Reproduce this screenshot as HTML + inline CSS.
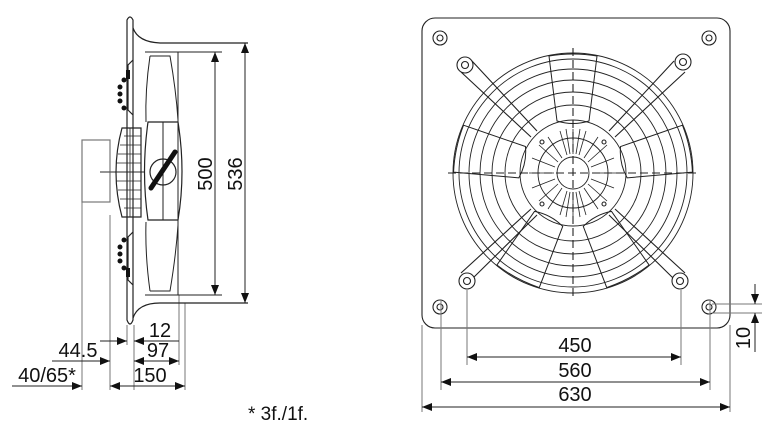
<!DOCTYPE html>
<html><head><meta charset="utf-8"><style>
html,body{margin:0;padding:0;background:#fff;}
svg{display:block;}
text{font-family:"Liberation Sans",Arial,sans-serif;fill:#111;}
</style></head><body>
<svg width="779" height="441" viewBox="0 0 779 441" xmlns="http://www.w3.org/2000/svg">
<defs>
<marker id="a" markerWidth="10" markerHeight="8" refX="10" refY="4" orient="auto" markerUnits="userSpaceOnUse"><path d="M0,0 L10,4 L0,8 z" fill="#111"/></marker>
<marker id="b" markerWidth="10" markerHeight="8" refX="0" refY="4" orient="auto" markerUnits="userSpaceOnUse"><path d="M10,0 L0,4 L10,8 z" fill="#111"/></marker>
<g id="blade"><path d="M52,-16 L117,-24 Q121,0 117,24 L52,16 Q47,0 52,-16 z" fill="none" stroke="#222" stroke-width="1"/></g>
</defs>

<!-- LEFT SIDE VIEW -->
<g stroke="#222" fill="none" stroke-width="1.2">
  <g stroke="#777" stroke-width="1">
    <line x1="82" y1="200" x2="82" y2="390"/>
    <line x1="110" y1="215" x2="110" y2="390"/>
    <line x1="127" y1="325" x2="127" y2="345"/>
    <line x1="134" y1="325" x2="134" y2="390"/>
    <line x1="179" y1="295" x2="179" y2="365"/>
    <line x1="185" y1="303" x2="185" y2="390"/>
  </g>
  <rect x="82" y="140" width="28" height="62" stroke="#777"/>
  <line x1="100" y1="172" x2="145" y2="172" stroke="#555"/>
  <path d="M127,20 Q130,14 133,20 L133,320 Q130,328 127,320 z"/>
  <path d="M133,28 Q138,42 160,43 L248,43"/>
  <path d="M133,318 Q138,303 160,303 L248,303"/>
  <path d="M145,52 L178,52 L178,295 L145,295" stroke-width="1"/>
  <path d="M150,56 L170,56 Q176,90 178,120 M150,56 Q145,90 146,122" stroke-width="1"/>
  <path d="M150,291 L170,291 Q176,255 178,225 M150,291 Q145,255 146,222" stroke-width="1"/>
  <path d="M148,122 Q141,172 148,220 L178,220 Q186,172 178,122 z"/>
  <line x1="163" y1="122" x2="163" y2="220" stroke-width="1"/>
  <circle cx="163" cy="172" r="13"/>
  <line x1="151" y1="188" x2="175" y2="152" stroke="#111" stroke-width="5" stroke-linecap="round"/>
  <path d="M141,128 L122,128 Q110,172 122,217 L141,217 z"/>
  <g stroke-width="0.8">
    <line x1="124" y1="136" x2="141" y2="136"/><line x1="120" y1="145" x2="141" y2="145"/>
    <line x1="118" y1="154" x2="141" y2="154"/><line x1="116" y1="163" x2="141" y2="163"/>
    <line x1="116" y1="181" x2="141" y2="181"/><line x1="118" y1="190" x2="141" y2="190"/>
    <line x1="120" y1="199" x2="141" y2="199"/><line x1="124" y1="208" x2="141" y2="208"/>
    <line x1="130" y1="128" x2="130" y2="217"/>
  </g>
  <path d="M133,60 L128,65 L128,110 L133,115"/>
  <path d="M133,232 L128,237 L128,280 L133,285"/>
  <g fill="#111" stroke="none">
    <circle cx="124" cy="80" r="2.5"/><circle cx="120" cy="87" r="2.5"/><circle cx="120" cy="94" r="2.5"/><circle cx="120" cy="101" r="2.5"/><circle cx="124" cy="108" r="2.5"/>
    <circle cx="124" cy="240" r="2.5"/><circle cx="120" cy="247" r="2.5"/><circle cx="120" cy="254" r="2.5"/><circle cx="120" cy="261" r="2.5"/><circle cx="124" cy="268" r="2.5"/>
    <rect x="126" y="70" width="4" height="9"/><rect x="126" y="268" width="4" height="9"/>
  </g>
  <line x1="178" y1="52" x2="222" y2="52" stroke-width="1"/>
  <line x1="178" y1="295" x2="222" y2="295" stroke-width="1"/>
  <line x1="215" y1="52" x2="215" y2="295" stroke-width="1" marker-start="url(#b)" marker-end="url(#a)"/>
  <line x1="245" y1="43" x2="245" y2="303" stroke-width="1" marker-start="url(#b)" marker-end="url(#a)"/>
  <line x1="100" y1="341" x2="127" y2="341" stroke-width="1" marker-end="url(#a)"/>
  <line x1="134" y1="341" x2="179" y2="341" stroke-width="1" marker-start="url(#b)"/>
  <line x1="52" y1="361" x2="110" y2="361" stroke-width="1" marker-end="url(#a)"/>
  <line x1="134" y1="361" x2="179" y2="361" stroke-width="1" marker-start="url(#b)" marker-end="url(#a)"/>
  <line x1="12" y1="386" x2="82" y2="386" stroke-width="1" marker-end="url(#a)"/>
  <line x1="110" y1="386" x2="185" y2="386" stroke-width="1" marker-start="url(#b)" marker-end="url(#a)"/>
</g>
<text x="0" y="0" font-size="20" transform="translate(212,174) rotate(-90)" text-anchor="middle">500</text>
<text x="0" y="0" font-size="20" transform="translate(242,174) rotate(-90)" text-anchor="middle">536</text>
<text x="160" y="337" font-size="20" text-anchor="middle">12</text>
<text x="78" y="357" font-size="20" text-anchor="middle">44.5</text>
<text x="158" y="357" font-size="20" text-anchor="middle">97</text>
<text x="47" y="382" font-size="20" text-anchor="middle">40/65*</text>
<text x="150" y="382" font-size="20" text-anchor="middle">150</text>
<text x="248" y="420" font-size="19">* 3f./1f.</text>

<!-- RIGHT FRONT VIEW -->
<g stroke="#222" fill="none" stroke-width="1.1">
  <rect x="422" y="18" width="308" height="310" rx="13"/>
  <g>
    <circle cx="440" cy="38" r="7"/><circle cx="440" cy="38" r="3"/>
    <circle cx="709" cy="38" r="7"/><circle cx="709" cy="38" r="3"/>
    <circle cx="440" cy="307" r="7"/><circle cx="440" cy="307" r="3"/>
    <circle cx="709" cy="307" r="7"/><circle cx="709" cy="307" r="3"/>
  </g>
  <g stroke-width="0.9">
    <circle cx="573" cy="173" r="120"/><circle cx="573" cy="173" r="114"/>
    <circle cx="573" cy="173" r="104"/><circle cx="573" cy="173" r="93"/>
    <circle cx="573" cy="173" r="81"/><circle cx="573" cy="173" r="68"/>
    <circle cx="573" cy="173" r="53"/><circle cx="573" cy="173" r="35"/>
    <circle cx="573" cy="173" r="16"/>
  </g>
  <g transform="translate(573,173)">
    <use href="#blade" transform="rotate(-90)"/>
    <use href="#blade" transform="rotate(-12)"/>
    <use href="#blade" transform="rotate(62)"/>
    <use href="#blade" transform="rotate(118)"/>
    <use href="#blade" transform="rotate(192)"/>
    <g>
      <path d="M-36,-42 L-101,-112 M-42,-36 L-112,-101"/>
      <path d="M36,-42 L101,-112 M42,-36 L112,-101"/>
      <path d="M-36,42 L-101,106 M-42,36 L-112,100"/>
      <path d="M36,42 L101,106 M42,36 L112,100"/>
    </g>
    <g stroke-width="0.8">
      <line x1="0" y1="-19" x2="0" y2="-44"/><line x1="6" y1="-18" x2="13" y2="-42"/><line x1="11" y1="-15" x2="25" y2="-36"/><line x1="15" y1="-11" x2="34" y2="-28"/><line x1="18" y1="-6" x2="41" y2="-15"/><line x1="19" y1="0" x2="44" y2="0"/><line x1="18" y1="6" x2="41" y2="15"/><line x1="15" y1="11" x2="34" y2="28"/><line x1="11" y1="15" x2="25" y2="36"/><line x1="6" y1="18" x2="13" y2="42"/><line x1="0" y1="19" x2="0" y2="44"/><line x1="-6" y1="18" x2="-13" y2="42"/><line x1="-11" y1="15" x2="-25" y2="36"/><line x1="-15" y1="11" x2="-34" y2="28"/><line x1="-18" y1="6" x2="-41" y2="15"/><line x1="-19" y1="0" x2="-44" y2="0"/><line x1="-18" y1="-6" x2="-41" y2="-15"/><line x1="-15" y1="-11" x2="-34" y2="-28"/><line x1="-11" y1="-15" x2="-25" y2="-36"/><line x1="-6" y1="-18" x2="-13" y2="-42"/>
      <line x1="3" y1="-19" x2="7" y2="-44"/><line x1="-3" y1="-19" x2="-7" y2="-44"/><line x1="3" y1="19" x2="7" y2="44"/><line x1="-3" y1="19" x2="-7" y2="44"/>
    </g>
    <circle cx="-31" cy="-31" r="2"/><circle cx="31" cy="-31" r="2"/><circle cx="-31" cy="31" r="2"/><circle cx="31" cy="31" r="2"/>
    <line x1="-125" y1="0" x2="125" y2="0" stroke-dasharray="8,4"/>
    <line x1="0" y1="-125" x2="0" y2="125" stroke-dasharray="8,4"/>
  </g>
  <g fill="#fff">
    <circle cx="465" cy="65" r="8"/><circle cx="465" cy="65" r="3.5"/>
    <circle cx="683" cy="62" r="8"/><circle cx="683" cy="62" r="3.5"/>
    <circle cx="467" cy="281" r="8"/><circle cx="467" cy="281" r="3.5"/>
    <circle cx="680" cy="281" r="8"/><circle cx="680" cy="281" r="3.5"/>
  </g>
  <g stroke="#777" stroke-width="1">
    <line x1="467" y1="290" x2="467" y2="365"/>
    <line x1="681" y1="290" x2="681" y2="365"/>
    <line x1="441" y1="300" x2="441" y2="390"/>
    <line x1="710" y1="300" x2="710" y2="390"/>
    <line x1="422" y1="325" x2="422" y2="412"/>
    <line x1="730" y1="325" x2="730" y2="412"/>
    <line x1="712" y1="304" x2="762" y2="304"/>
    <line x1="712" y1="313" x2="762" y2="313"/>
  </g>
  <g stroke-width="1">
    <line x1="467" y1="357" x2="681" y2="357" marker-start="url(#b)" marker-end="url(#a)"/>
    <line x1="441" y1="382" x2="710" y2="382" marker-start="url(#b)" marker-end="url(#a)"/>
    <line x1="422" y1="407" x2="730" y2="407" marker-start="url(#b)" marker-end="url(#a)"/>
    <line x1="755" y1="284" x2="755" y2="304" marker-end="url(#a)"/>
    <line x1="755" y1="352" x2="755" y2="313" marker-end="url(#a)"/>
  </g>
</g>
<text x="575" y="352" font-size="20" text-anchor="middle">450</text>
<text x="575" y="377" font-size="20" text-anchor="middle">560</text>
<text x="575" y="401" font-size="20" text-anchor="middle">630</text>
<text x="0" y="0" font-size="20" transform="translate(750,338) rotate(-90)" text-anchor="middle">10</text>
</svg>
</body></html>
